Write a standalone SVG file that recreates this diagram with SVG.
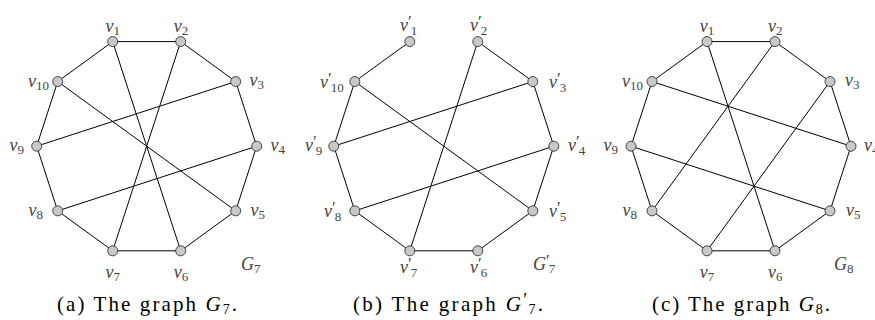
<svg xmlns="http://www.w3.org/2000/svg" width="875" height="320" viewBox="0 0 875 320">
<style>
.e{stroke:#000;stroke-width:1;fill:none}
.n{fill:#c8c8c8;stroke:#333;stroke-width:0.9}
.l{font-family:"Liberation Serif",serif;font-size:18px;fill:#444;font-style:italic}
.s{font-size:13px;font-style:normal}
.p{font-style:normal;font-size:17px}
.cap{font-family:"Liberation Serif",serif;font-size:21px;fill:#000}
</style>
<g id="connectors">
<polygon class="e" points="112.71,41.58 180.69,41.58 235.69,81.54 256.7,146.2 235.69,210.86 180.69,250.82 112.71,250.82 57.71,210.86 36.7,146.2 57.71,81.54"/>
<line class="e" x1="112.71" y1="41.58" x2="180.69" y2="250.82"/>
<line class="e" x1="180.69" y1="41.58" x2="112.71" y2="250.82"/>
<line class="e" x1="57.71" y1="81.54" x2="235.69" y2="210.86"/>
<line class="e" x1="235.69" y1="81.54" x2="36.7" y2="146.2"/>
<line class="e" x1="256.7" y1="146.2" x2="57.71" y2="210.86"/>
<polyline class="e" points="409.81,41.58 354.81,81.54 333.8,146.2 354.81,210.86 409.81,250.82 477.79,250.82 532.79,210.86 553.8,146.2 532.79,81.54 477.79,41.58"/>
<line class="e" x1="477.79" y1="41.58" x2="409.81" y2="250.82"/>
<line class="e" x1="354.81" y1="81.54" x2="532.79" y2="210.86"/>
<line class="e" x1="532.79" y1="81.54" x2="333.8" y2="146.2"/>
<line class="e" x1="553.8" y1="146.2" x2="354.81" y2="210.86"/>
<polygon class="e" points="707.01,41.58 774.99,41.58 829.99,81.54 851,146.2 829.99,210.86 774.99,250.82 707.01,250.82 652.01,210.86 631,146.2 652.01,81.54"/>
<line class="e" x1="707.01" y1="41.58" x2="774.99" y2="250.82"/>
<line class="e" x1="774.99" y1="41.58" x2="652.01" y2="210.86"/>
<line class="e" x1="829.99" y1="81.54" x2="707.01" y2="250.82"/>
<line class="e" x1="652.01" y1="81.54" x2="851" y2="146.2"/>
<line class="e" x1="631" y1="146.2" x2="829.99" y2="210.86"/>
</g>

<g id="a-v1"><circle class="n" cx="112.71" cy="41.58" r="5"/><text class="l" x="112.7" y="31.7" text-anchor="middle">v<tspan class="s" dy="3">1</tspan></text></g>
<g id="a-v2"><circle class="n" cx="180.69" cy="41.58" r="5"/><text class="l" x="181" y="31.7" text-anchor="middle">v<tspan class="s" dy="3">2</tspan></text></g>
<g id="a-v3"><circle class="n" cx="235.69" cy="81.54" r="5"/><text class="l" x="249.5" y="86">v<tspan class="s" dy="3">3</tspan></text></g>
<g id="a-v4"><circle class="n" cx="256.7" cy="146.2" r="5"/><text class="l" x="270.5" y="151">v<tspan class="s" dy="3">4</tspan></text></g>
<g id="a-v5"><circle class="n" cx="235.69" cy="210.86" r="5"/><text class="l" x="250.5" y="216">v<tspan class="s" dy="3">5</tspan></text></g>
<g id="a-v6"><circle class="n" cx="180.69" cy="250.82" r="5"/><text class="l" x="181" y="277.5" text-anchor="middle">v<tspan class="s" dy="3">6</tspan></text></g>
<g id="a-v7"><circle class="n" cx="112.71" cy="250.82" r="5"/><text class="l" x="112.7" y="277.5" text-anchor="middle">v<tspan class="s" dy="3">7</tspan></text></g>
<g id="a-v8"><circle class="n" cx="57.71" cy="210.86" r="5"/><text class="l" x="43" y="216" text-anchor="end">v<tspan class="s" dy="3">8</tspan></text></g>
<g id="a-v9"><circle class="n" cx="36.7" cy="146.2" r="5"/><text class="l" x="24" y="151" text-anchor="end">v<tspan class="s" dy="3">9</tspan></text></g>
<g id="a-v10"><circle class="n" cx="57.71" cy="81.54" r="5"/><text class="l" x="49" y="87" text-anchor="end">v<tspan class="s" dy="3">10</tspan></text></g>
<g id="a-name"><text class="l" x="241" y="270">G<tspan class="s" dy="3">7</tspan></text></g>
<g id="a-caption"><text class="cap" x="57" y="311" textLength="180" lengthAdjust="spacing">(a)  The graph <tspan font-style="italic">G</tspan><tspan font-size="14" dy="3">7</tspan><tspan dy="-3">.</tspan></text></g>

<g id="b-v1"><circle class="n" cx="409.81" cy="41.58" r="5"/><text class="l" x="400" y="31">v<tspan class="p" dy="-4">′</tspan><tspan class="s" dx="-1" dy="8">1</tspan></text></g>
<g id="b-v2"><circle class="n" cx="477.79" cy="41.58" r="5"/><text class="l" x="470" y="31">v<tspan class="p" dy="-4">′</tspan><tspan class="s" dx="-1" dy="8">2</tspan></text></g>
<g id="b-v3"><circle class="n" cx="532.79" cy="81.54" r="5"/><text class="l" x="549" y="88">v<tspan class="p" dy="-4">′</tspan><tspan class="s" dx="-1" dy="8">3</tspan></text></g>
<g id="b-v4"><circle class="n" cx="553.8" cy="146.2" r="5"/><text class="l" x="568" y="151">v<tspan class="p" dy="-4">′</tspan><tspan class="s" dx="-1" dy="8">4</tspan></text></g>
<g id="b-v5"><circle class="n" cx="532.79" cy="210.86" r="5"/><text class="l" x="549" y="217">v<tspan class="p" dy="-4">′</tspan><tspan class="s" dx="-1" dy="8">5</tspan></text></g>
<g id="b-v6"><circle class="n" cx="477.79" cy="250.82" r="5"/><text class="l" x="470" y="273">v<tspan class="p" dy="-4">′</tspan><tspan class="s" dx="-1" dy="8">6</tspan></text></g>
<g id="b-v7"><circle class="n" cx="409.81" cy="250.82" r="5"/><text class="l" x="400" y="273">v<tspan class="p" dy="-4">′</tspan><tspan class="s" dx="-1" dy="8">7</tspan></text></g>
<g id="b-v8"><circle class="n" cx="354.81" cy="210.86" r="5"/><text class="l" x="324" y="217">v<tspan class="p" dy="-4">′</tspan><tspan class="s" dx="-1" dy="8">8</tspan></text></g>
<g id="b-v9"><circle class="n" cx="333.8" cy="146.2" r="5"/><text class="l" x="305" y="151">v<tspan class="p" dy="-4">′</tspan><tspan class="s" dx="-1" dy="8">9</tspan></text></g>
<g id="b-v10"><circle class="n" cx="354.81" cy="81.54" r="5"/><text class="l" x="320" y="88">v<tspan class="p" dy="-4">′</tspan><tspan class="s" dx="-1" dy="8">10</tspan></text></g>
<g id="b-name"><text class="l" x="533" y="270">G<tspan class="p" dy="-4">′</tspan><tspan class="s" dx="-1" dy="7">7</tspan></text></g>
<g id="b-caption"><text class="cap" x="353" y="311" textLength="190" lengthAdjust="spacing">(b)  The graph <tspan font-style="italic">G</tspan><tspan dy="-5" font-size="18">′</tspan><tspan font-size="14" dx="-1" dy="8">7</tspan><tspan dy="-3">.</tspan></text></g>

<g id="c-v1"><circle class="n" cx="707.01" cy="41.58" r="5"/><text class="l" x="707" y="31.7" text-anchor="middle">v<tspan class="s" dy="3">1</tspan></text></g>
<g id="c-v2"><circle class="n" cx="774.99" cy="41.58" r="5"/><text class="l" x="775.3" y="31.7" text-anchor="middle">v<tspan class="s" dy="3">2</tspan></text></g>
<g id="c-v3"><circle class="n" cx="829.99" cy="81.54" r="5"/><text class="l" x="845" y="86">v<tspan class="s" dy="3">3</tspan></text></g>
<g id="c-v4"><circle class="n" cx="851" cy="146.2" r="5"/><text class="l" x="864" y="151">v<tspan class="s" dy="3">4</tspan></text></g>
<g id="c-v5"><circle class="n" cx="829.99" cy="210.86" r="5"/><text class="l" x="846" y="216">v<tspan class="s" dy="3">5</tspan></text></g>
<g id="c-v6"><circle class="n" cx="774.99" cy="250.82" r="5"/><text class="l" x="775.3" y="277.5" text-anchor="middle">v<tspan class="s" dy="3">6</tspan></text></g>
<g id="c-v7"><circle class="n" cx="707.01" cy="250.82" r="5"/><text class="l" x="707" y="277.5" text-anchor="middle">v<tspan class="s" dy="3">7</tspan></text></g>
<g id="c-v8"><circle class="n" cx="652.01" cy="210.86" r="5"/><text class="l" x="637" y="216" text-anchor="end">v<tspan class="s" dy="3">8</tspan></text></g>
<g id="c-v9"><circle class="n" cx="631" cy="146.2" r="5"/><text class="l" x="618" y="151" text-anchor="end">v<tspan class="s" dy="3">9</tspan></text></g>
<g id="c-v10"><circle class="n" cx="652.01" cy="81.54" r="5"/><text class="l" x="643" y="87" text-anchor="end">v<tspan class="s" dy="3">10</tspan></text></g>
<g id="c-name"><text class="l" x="834" y="270">G<tspan class="s" dy="3">8</tspan></text></g>
<g id="c-caption"><text class="cap" x="652" y="311" textLength="178" lengthAdjust="spacing">(c)  The graph <tspan font-style="italic">G</tspan><tspan font-size="14" dy="3">8</tspan><tspan dy="-3">.</tspan></text></g>
</svg>
